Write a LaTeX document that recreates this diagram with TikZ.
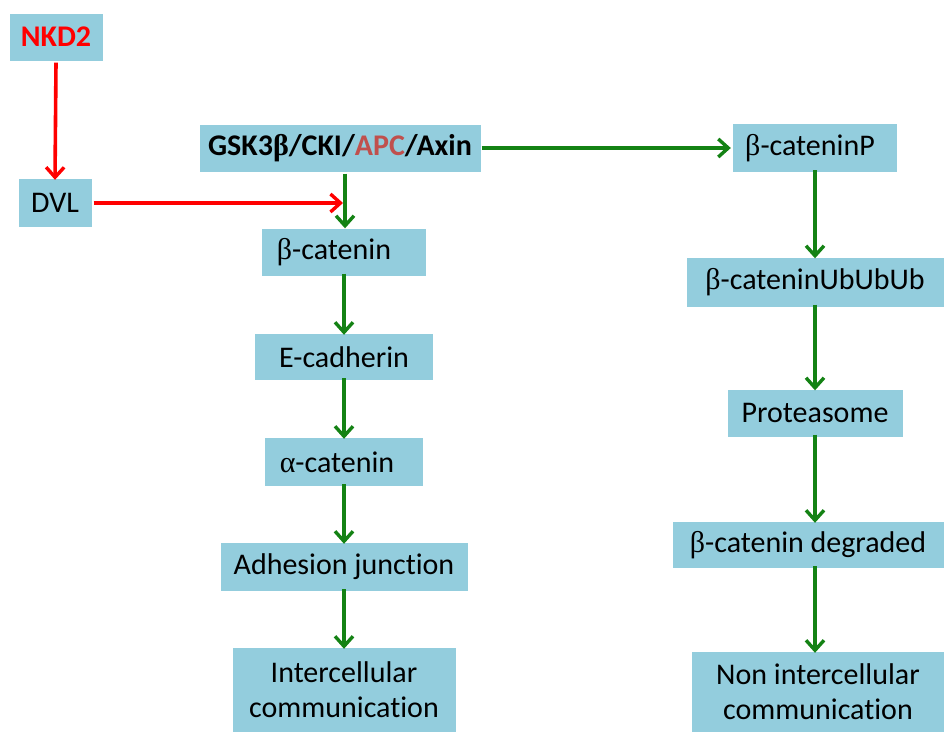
\documentclass[tikz,border=0pt]{standalone}
\usepackage{fontspec}
\setmainfont[Ligatures=NoCommon]{Carlito}
\newfontfamily\grk{Liberation Serif}
\newcommand{\bet}{{\grk β}}
\newcommand{\alp}{{\grk α}}
\usetikzlibrary{arrows.meta}
\definecolor{boxblue}{RGB}{147,205,221}
\definecolor{arrgreen}{RGB}{20,130,20}
\definecolor{apcred}{RGB}{192,80,77}
\begin{document}
\begin{tikzpicture}[x=1pt,y=-1pt,
  box/.style={fill=boxblue, inner sep=0pt, font=\fontsize{30}{35}\selectfont, align=center, anchor=center},
  garr/.style={draw=arrgreen, line width=3.6pt, -{Straight Barb[length=10pt,width=18pt,line width=3.4pt]}},
  rarr/.style={draw=red, line width=3.6pt, -{Straight Barb[length=10pt,width=18pt,line width=3.4pt]}}]
\useasboundingbox (0,0) rectangle (944,731);
\node[box, minimum width=93, minimum height=47, text=red, font=\fontsize{30}{35}\selectfont\bfseries] (nkd) at (56,37) {NKD2};
\node[box, minimum width=73, minimum height=48] (dvl) at (55,203) {DVL};
\node[box, minimum width=281, minimum height=47, font=\fontsize{30}{35}\selectfont\bfseries] (gsk) at (340,148) {GSK3\bet/CKI/\textcolor{apcred}{APC}/Axin};
\node[box, minimum width=164, minimum height=47] (bcat) at (344,252) {\bet-catenin\hspace*{20pt}};
\node[box, minimum width=178, minimum height=46] (ecad) at (344,357) {E-cadherin};
\node[box, minimum width=158, minimum height=48] (acat) at (344,462) {\alp-catenin\hspace*{14pt}};
\node[box, minimum width=247, minimum height=48] (adh) at (344,567) {Adhesion junction};
\node[box, minimum width=223, minimum height=84] (inter) at (344,690) {Intercellular\\communication};
\node[box, minimum width=164, minimum height=48] (bcatp) at (815,148) {\bet-cateninP\hspace*{10pt}};
\node[box, minimum width=257, minimum height=49] (ub) at (815,282) {\bet-cateninUbUbUb};
\node[box, minimum width=175, minimum height=47] (prot) at (815,413) {Proteasome};
\node[box, minimum width=271, minimum height=46] (deg) at (808,545) {\bet-catenin degraded};
\node[box, minimum width=252, minimum height=80] (non) at (818,692) {Non intercellular\\communication};
\coordinate (join) at (343,203);
\draw[rarr] (nkd.south) ++(0,2) -- ([yshift=-1pt]dvl.north);
\draw[rarr] ([xshift=2pt]dvl.east) -- (join);
\draw[garr] ([shift={(5,2)}]gsk.south) -- ([xshift=1pt]bcat.north);
\draw[garr] ([xshift=1pt]gsk.east) -- ([xshift=-2pt]bcatp.west);
\draw[garr] ([yshift=2pt]bcat.south) -- ([yshift=-1pt]ecad.north);
\draw[garr] ([yshift=2pt]ecad.south) -- ([yshift=-1pt]acat.north);
\draw[garr] ([yshift=2pt]acat.south) -- ([yshift=-1pt]adh.north);
\draw[garr] ([yshift=2pt]adh.south) -- ([yshift=-1pt]inter.north);
\draw[garr] ([yshift=2pt]bcatp.south) -- ([yshift=-1pt]ub.north);
\draw[garr] ([yshift=2pt]ub.south) -- ([yshift=-1pt]prot.north);
\draw[garr] ([yshift=2pt]prot.south) -- ([yshift=-1pt]prot.south |- deg.north);
\draw[garr] ([yshift=2pt]prot.south |- deg.south) -- ([yshift=-1pt]prot.south |- non.north);
\end{tikzpicture}
\end{document}
